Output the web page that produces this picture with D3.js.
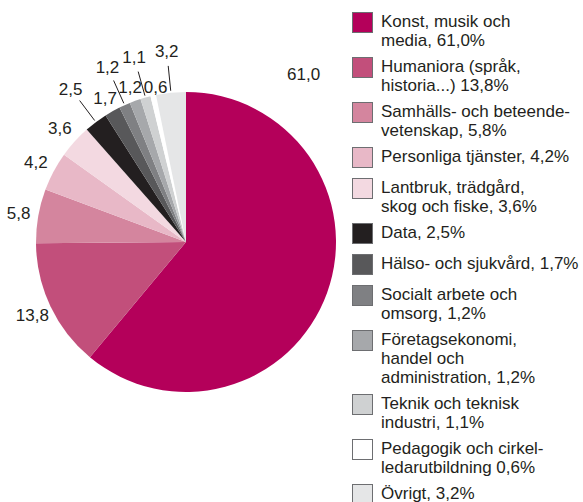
<!DOCTYPE html>
<meta charset="utf-8">
<style>
body { margin: 0; background: #fff; }
svg text {
  font-family: "Liberation Sans", Arial, sans-serif;
  font-size: 17px;
  fill: #231f20;
}
.legend rect { stroke: #6d6e71; stroke-width: 1; }
.leader { stroke: #231f20; stroke-width: 1; }
</style>
<svg width="583" height="502"></svg>
<script src="https://d3js.org/d3.v7.min.js"></script>
<script>

var categories = [
  ["Konst, musik och", "media, 61,0%"],
  ["Humaniora (språk,", "historia...) 13,8%"],
  ["Samhälls- och beteende-", "vetenskap, 5,8%"],
  ["Personliga tjänster, 4,2%"],
  ["Lantbruk, trädgård,", "skog och fiske, 3,6%"],
  ["Data, 2,5%"],
  ["Hälso- och sjukvård, 1,7%"],
  ["Socialt arbete och", "omsorg, 1,2%"],
  ["Företagsekonomi,", "handel och", "administration, 1,2%"],
  ["Teknik och teknisk", "industri, 1,1%"],
  ["Pedagogik och cirkel-", "ledarutbildning 0,6%"],
  ["Övrigt, 3,2%"]
];

var values = [61.0, 13.8, 5.8, 4.2, 3.6, 2.5, 1.7, 1.2, 1.2, 1.1, 0.6, 3.2];

var colors = ["#b4005a", "#c24f7b", "#d4859e", "#e8b8c7", "#f3d9e1", "#231f20",
              "#58585a", "#7f8083", "#a6a8ab", "#cfd1d2", "#ffffff", "#e5e6e7"];

var svg = d3.select("svg"),
    cx = 186, cy = 242, radius = 150;

var fmt = function(v) { return d3.format(".1f")(v).replace(".", ","); };

var pie = d3.pie().sort(null).value(function(d) { return d; });
var arcs = pie(values);

var arc = d3.arc().innerRadius(0).outerRadius(radius);

var g = svg.append("g").attr("transform", "translate(" + cx + "," + cy + ")");

g.selectAll("path")
  .data(arcs)
  .enter().append("path")
    .attr("d", arc)
    .attr("fill", function(d, i) { return colors[i]; });

// small slices alternate between short labels and labels with a leader line
function hasLeader(i) { return i >= 5 && i % 2 === 1; }

function polar(a, r) { return [Math.sin(a) * r, -Math.cos(a) * r]; }

arcs.forEach(function(d, i) {
  var a = (d.startAngle + d.endAngle) / 2, r = 170;
  if (i === 0) { a = 35 * Math.PI / 180; r = 205; }
  if (i >= 5) r = 165;
  if (d.data < 1) { r = 158; a += 1.5 * Math.PI / 180; }
  if (hasLeader(i)) {
    r = 192;
    var p0 = polar(a, 152), p1 = polar(a, 177);
    g.append("line").attr("class", "leader")
      .attr("x1", p0[0]).attr("y1", p0[1])
      .attr("x2", p1[0]).attr("y2", p1[1]);
  }
  var p = polar(a, r);
  g.append("text")
    .attr("x", p[0])
    .attr("y", p[1])
    .attr("dy", "0.36em")
    .attr("text-anchor", "middle")
    .text(fmt(d.data));
});

// legend
var legend = svg.append("g").attr("class", "legend");
var y = 12, lineH = 19;
categories.forEach(function(lines, i) {
  var item = legend.append("g").attr("transform", "translate(352," + y + ")");
  item.append("rect")
    .attr("x", 0.5).attr("y", 0.5)
    .attr("width", 20).attr("height", 20)
    .attr("fill", colors[i]);
  var t = item.append("text").attr("x", 29).attr("y", 15);
  lines.forEach(function(s, j) {
    t.append("tspan").attr("x", 29).attr("dy", j ? lineH : 0).text(s);
  });
  y += Math.max(lines.length * lineH + 7, 31);
});

</script>
